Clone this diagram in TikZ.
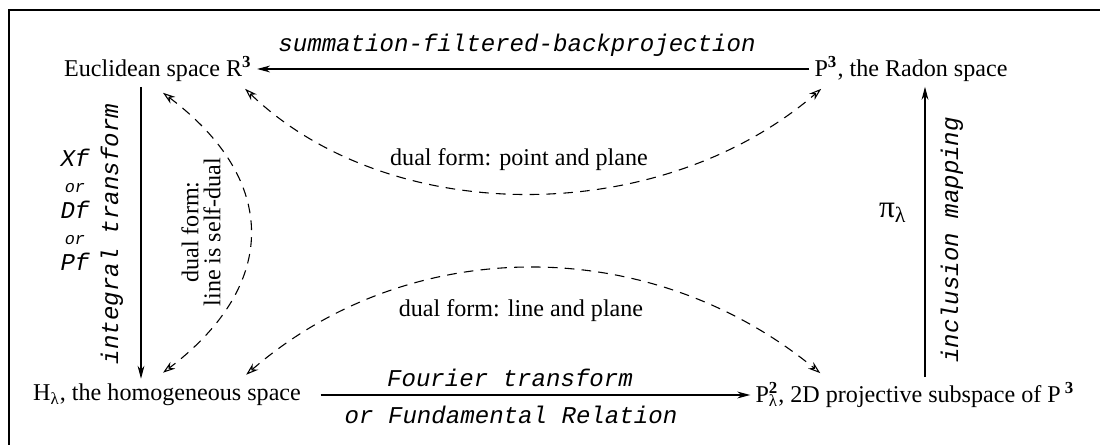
\documentclass[tikz,border=0pt]{standalone}
\usepackage{fontspec}
\setmainfont{Liberation Serif}
\setmonofont{Liberation Mono}
\usetikzlibrary{arrows.meta,calc}

\begin{document}
\begin{tikzpicture}[
  x=0.415pt, y=-0.415pt,
  font=\fontsize{10}{12}\selectfont,
  space/.style={inner sep=2pt},
  lbl/.style={font=\fontsize{10}{10.8}\selectfont\ttfamily\itshape, inner sep=0pt, align=center},
  note/.style={font=\fontsize{10}{9.2}\selectfont, inner sep=0pt, align=center},
  arr/.style={-{Stealth[length=1.9mm, width=1mm]}, line width=0.45pt},
  dual/.style={{Stealth[length=1.8mm, width=1.2mm, open]}-{Stealth[length=1.8mm, width=1.2mm, open]}, dash pattern=on 4pt off 3pt, line width=0.45pt}
]

\useasboundingbox (0,0) rectangle (1100,445);
\draw[line width=0.8pt] (9,445) -- (9,10) -- (1100,10);

%% ---------- the four spaces ----------
\node[space] (eucl)  at (158,69)  {Euclidean space R\textsuperscript{\textbf{3}}};
\node[space] (radon) at (911,69)  {P\textsuperscript{\textbf{3}}, the Radon space};
\node[space] (homog) at (167,395) {H\textsubscript{λ}, the homogeneous space};
\node[space] (proj)  at (915,395) {P\rlap{\textsuperscript{\textbf{2}}}\textsubscript{λ}, 2D projective subspace of P\,\textsuperscript{\textbf{3}}};

%% ---------- horizontal maps ----------
\draw[arr] (radon.west) -- (radon.west -| eucl.east);
\node[lbl] (sfbp) at (517,45) {summation-filtered-backprojection};

\draw[arr, shorten <=6pt] (homog.east) -- (homog.east -| proj.west);
\node[lbl] (fourier) at (510,378) {Fourier transform};
\node[lbl] (fundrel) at (511,415) {or Fundamental Relation};

%% ---------- vertical maps ----------
\coordinate (lcol) at (141,0);
\coordinate (rcol) at (925,0);
\draw[arr] (eucl.south -| lcol) -- (homog.north -| lcol);
\node[lbl, rotate=90] (integral) at (112,234) {integral transform};
\node[lbl] (xdp) at (75,210) {Xf\\{\fontsize{7}{10.8}\selectfont or}\\Df\\{\fontsize{7}{10.8}\selectfont or}\\Pf};

\draw[arr] (proj.north -| rcol) -- (radon.south -| rcol);
\node[lbl, rotate=90] (inclmap) at (952,240) {inclusion mapping};
\node[font=\fontsize{13}{15}\selectfont, inner sep=0pt] (pi) at (893,213) {π\textsubscript{λ}};

%% ---------- dualities ----------
\draw[dual] ($(eucl.south)+(5,6)$) .. controls (279,180) and (279,285) .. ($(homog.north)+(-4,-6)$);
\node[note, rotate=90] (selfdual) at (201,232) {dual form:\\line is self-dual};

\draw[dual] ($(eucl.south east)+(-12,2)$) .. controls (390,228) and (660,228) .. ($(radon.south west)+(12,2)$);
\node[note] (ptpl) at (519,160) {dual form: point and plane};

\draw[dual] ($(homog.north east)+(-60,-4)$) .. controls (410,233) and (650,233) .. ($(proj.north west)+(70,-4)$);
\node[note] (lnpl) at (521,311) {dual form: line and plane};

\end{tikzpicture}
\end{document}
